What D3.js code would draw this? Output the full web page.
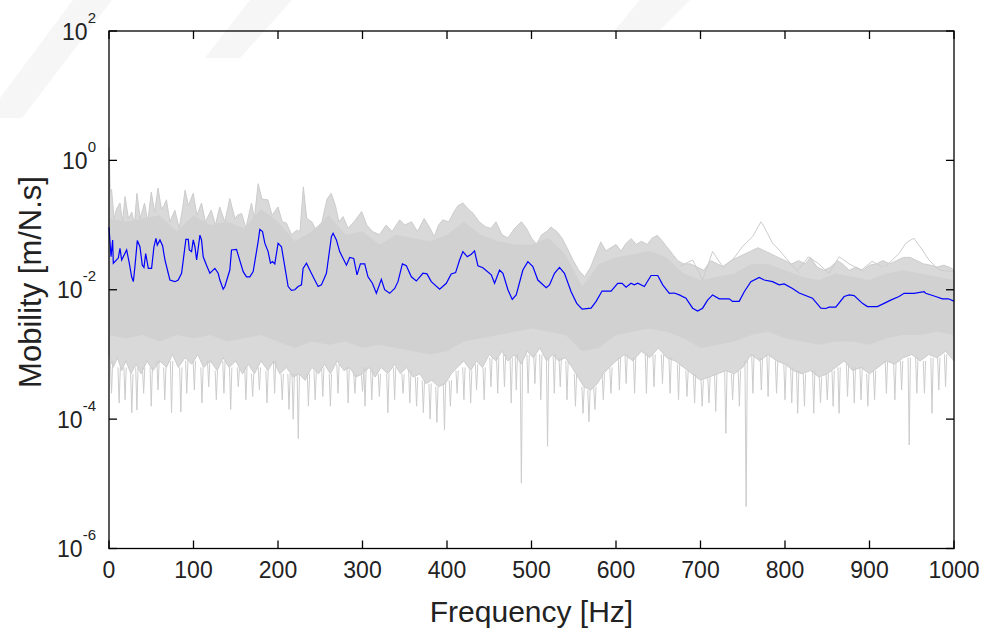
<!DOCTYPE html>
<html>
<head>
<meta charset="utf-8">
<script src="https://cdn.jsdelivr.net/npm/d3@7"></script>
<style>
  body { margin: 0; background: white; }
  text { font-family: "Liberation Sans", Arial, sans-serif; fill: #222; }
</style>
</head>
<body>
<div id="chart"></div>
<script>
// ---- data (frequency in Hz, mobility as log10 exponent) ----

// mean mobility curve (blue)
let meanCurve = [
  [0,-1.035],[2.4,-1.49],[4.3,-1.23],[5.1,-1.59],[11,-1.51],[13,-1.36],[15,-1.54],[20.9,-1.385],[24,-1.59],[26.8,-1.8],
  [28.8,-1.875],[30.7,-1.64],[33.5,-1.24],[36.6,-1.335],[39.4,-1.62],[41.4,-1.655],[43.4,-1.44],[46.5,-1.67],[50.4,-1.67],[53.2,-1.335],
  [55.6,-1.205],[57.1,-1.31],[60.3,-1.23],[63.4,-1.32],[66.2,-1.54],[70.1,-1.745],[72.1,-1.85],[78,-1.875],[81.9,-1.85],[85.9,-1.745],
  [91,-1.22],[93.8,-1.22],[95,-1.385],[97.7,-1.41],[99.7,-1.23],[101.7,-1.335],[103.7,-1.54],[107.6,-1.155],[109.5,-1.23],[111.5,-1.49],
  [115.4,-1.62],[119.4,-1.745],[121.3,-1.72],[125.3,-1.67],[129.2,-1.745],[131.2,-1.85],[135.1,-1.99],[137.1,-1.95],[143,-1.695],[145,-1.385],
  [150.9,-1.375],[152.8,-1.46],[158.8,-1.72],[162.7,-1.8],[166.7,-1.8],[170.6,-1.72],[176.5,-1.257],[178.5,-1.066],[181.7,-1.1],[184.4,-1.28],
  [188.3,-1.41],[191.1,-1.59],[193.5,-1.565],[196.2,-1.6],[200.1,-1.28],[204.1,-1.335],[208,-1.64],[212,-1.95],[215.9,-2.01],[219.9,-2.0],
  [223.8,-1.95],[227.8,-1.925],[229.7,-1.67],[233.7,-1.59],[237.6,-1.695],[243.5,-1.85],[247.5,-1.95],[251.4,-1.925],[257.3,-1.745],[263.2,-1.18],
  [265.2,-1.127],[269.1,-1.23],[273,-1.41],[281,-1.62],[284.9,-1.5],[289.6,-1.515],[293.5,-1.77],[297.5,-1.6],[302.6,-1.6],[306.5,-1.8],
  [311.7,-1.9],[316.4,-2.055],[322.3,-1.84],[326.2,-2.0],[332.2,-2.055],[338.1,-1.98],[342,-1.875],[347.2,-1.6],[351.9,-1.63],[357.8,-1.8],
  [363.7,-1.865],[371.5,-1.745],[376.3,-1.755],[381.4,-1.875],[391.3,-1.99],[399.2,-1.9],[405,-1.755],[410.2,-1.735],[414.9,-1.54],[418.8,-1.41],
  [424,-1.49],[428.7,-1.45],[432.6,-1.4],[436.6,-1.63],[442.5,-1.66],[452.4,-1.77],[456.3,-1.9],[462.2,-1.695],[466.2,-1.745],[472.1,-2.0],
  [477.2,-2.15],[481.9,-2.08],[489.8,-1.695],[495.7,-1.565],[501.6,-1.64],[507.5,-1.85],[517.4,-1.97],[521.3,-1.925],[527.2,-1.745],[533.1,-1.655],
  [539,-1.745],[546.9,-2.03],[553.5,-2.21],[559.9,-2.3],[570.5,-2.285],[576.5,-2.18],[583.5,-2.02],[594.2,-2.02],[602,-1.9],[607.2,-1.9],
  [611.9,-1.96],[617.8,-1.9],[621.7,-1.925],[625.7,-1.9],[633.6,-1.95],[641.5,-1.78],[649.4,-1.78],[655.3,-1.925],[663.1,-2.055],[669,-2.05],
  [674.9,-2.08],[682.8,-2.13],[690.7,-2.285],[696.6,-2.33],[702.5,-2.285],[708.4,-2.16],[714.3,-2.08],[722.2,-2.14],[734,-2.14],[737.9,-2.18],
  [745.8,-2.18],[751.8,-2.03],[759.6,-1.875],[769.5,-1.81],[775.4,-1.85],[785.2,-1.875],[793.1,-1.925],[799,-1.91],[808.9,-1.98],[816.8,-2.05],
  [832.5,-2.13],[842.4,-2.285],[848.3,-2.29],[852.2,-2.27],[860.1,-2.27],[870,-2.105],[875.9,-2.08],[881.8,-2.09],[891.6,-2.21],[897.5,-2.26],
  [909.3,-2.26],[917.3,-2.21],[925.1,-2.16],[935,-2.105],[940.9,-2.055],[952.7,-2.055],[964.5,-2.03],[966.5,-2.055],[978.3,-2.105],[986.2,-2.14],
  [993.3,-2.14],[1000,-2.175]
];

// outer upper edge of the bundle of individual measurements (grey)
let bundleUpper = [
  [0,0.2],[1.5,-0.5],[3,-0.45],[6,-0.9],[9,-0.75],[13,-0.66],[16,-0.95],[19,-0.56],[23,-0.9],[27,-0.8],
  [30,-1.0],[33,-0.51],[37,-0.9],[42,-0.66],[46,-0.95],[50,-0.49],[54,-0.8],[58,-0.43],[62,-0.75],[65,-0.7],
  [68,-0.61],[72,-0.95],[78,-0.77],[83,-1.05],[87,-0.75],[90,-0.46],[94,-0.7],[99.7,-0.51],[104,-0.85],[109.5,-0.66],
  [114,-0.95],[121,-0.77],[126,-1.0],[131,-0.72],[137,-0.95],[143,-0.59],[149,-0.9],[152,-0.85],[157,-0.82],[162,-1.05],
  [168.6,-0.66],[172,-0.9],[176.5,-0.36],[181,-0.6],[188,-0.61],[193,-0.85],[200,-0.72],[205,-0.95],[210,-0.97],[216,-1.15],
  [222,-1.08],[226,-1.1],[230,-0.41],[234,-0.9],[240,-0.95],[246,-1.1],[252,-0.95],[258,-0.6],[263,-0.51],[268,-0.7],
  [272,-0.95],[277,-0.87],[283,-1.05],[290,-0.95],[299,-0.79],[305,-1.0],[312,-1.1],[320,-1.15],[328,-1.0],[335,-1.1],
  [344,-0.92],[350,-1.0],[358,-0.95],[365,-1.1],[373,-0.9],[380,-1.05],[385,-1.18],[390,-1.0],[395,-0.92],[402,-0.95],
  [408,-0.8],[413,-0.7],[419,-0.66],[425,-0.75],[431,-0.82],[438,-0.95],[446,-1.03],[452,-1.05],[458,-0.95],[465,-1.15],
  [472,-1.2],[480,-1.05],[488,-0.95],[494,-1.05],[500,-1.2],[506,-1.3],[512,-1.15],[518,-1.1],[523,-1.03],[530,-1.1],
  [536,-1.2],[542,-1.35],[549,-1.54],[556,-1.7],[563,-1.8],[570,-1.65],[576,-1.45],[582,-1.26],[588,-1.4],[594,-1.35],
  [600,-1.3],[606,-1.4],[612,-1.28],[618,-1.21],[624,-1.3],[630,-1.25],[637,-1.3],[643,-1.2],[649,-1.16],[655,-1.25],
  [661,-1.35],[667,-1.45],[673,-1.55],[680,-1.6],[688,-1.6],[696,-1.65],[704,-1.7],[712,-1.55],[720,-1.6],[728,-1.65],
  [736,-1.55],[744,-1.5],[752,-1.45],[760,-1.4],[768,-1.35],[776,-1.4],[784,-1.45],[792,-1.5],[800,-1.55],[808,-1.6],
  [816,-1.55],[824,-1.6],[830,-1.5],[838,-1.65],[846,-1.7],[854,-1.65],[862,-1.55],[868,-1.6],[876,-1.7],[884,-1.65],
  [892,-1.7],[900,-1.62],[908,-1.6],[916,-1.55],[924,-1.6],[932,-1.55],[940,-1.5],[948,-1.5],[956,-1.55],[964,-1.6],
  [972,-1.62],[980,-1.65],[988,-1.62],[996,-1.66],[1000,-1.7]
];

// outer lower edge of the bundle
let bundleLower = [
  [0,-3.0],[5,-3.2],[10,-3.05],[15,-3.25],[20,-3.1],[26,-3.3],[32,-3.15],[38,-3.3],[45,-3.1],[52,-3.25],
  [60,-3.1],[68,-3.2],[75,-3.0],[82,-3.2],[90,-3.05],[98,-3.15],[105,-3.0],[112,-3.2],[120,-3.1],[128,-3.25],
  [135,-3.05],[142,-3.2],[150,-3.1],[158,-3.3],[165,-3.15],[172,-3.3],[180,-3.1],[188,-3.25],[195,-3.1],[202,-3.3],
  [210,-3.2],[218,-3.35],[225,-3.3],[232,-3.4],[240,-3.2],[248,-3.3],[255,-3.15],[262,-3.3],[270,-3.1],[278,-3.25],
  [285,-3.2],[292,-3.35],[300,-3.3],[308,-3.2],[315,-3.35],[322,-3.2],[330,-3.3],[338,-3.15],[345,-3.3],[352,-3.2],
  [360,-3.35],[368,-3.3],[375,-3.45],[382,-3.4],[390,-3.5],[398,-3.45],[405,-3.3],[412,-3.2],[420,-3.1],[428,-3.25],
  [435,-3.1],[442,-3.2],[450,-3.0],[458,-3.1],[465,-2.95],[472,-3.1],[480,-3.0],[488,-3.15],[495,-2.95],[502,-3.05],
  [510,-2.9],[518,-3.1],[525,-3.0],[532,-3.1],[540,-3.05],[548,-3.2],[555,-3.35],[562,-3.5],[570,-3.55],[578,-3.45],
  [585,-3.3],[592,-3.2],[600,-3.1],[610,-3.0],[620,-3.1],[630,-2.95],[640,-3.05],[650,-2.9],[660,-3.05],[670,-3.1],
  [680,-3.2],[690,-3.3],[700,-3.4],[710,-3.35],[720,-3.3],[730,-3.25],[740,-3.3],[750,-3.2],[760,-3.0],[770,-3.1],
  [780,-3.0],[790,-3.1],[800,-3.15],[810,-3.25],[820,-3.3],[830,-3.25],[840,-3.35],[850,-3.3],[860,-3.2],[870,-3.1],
  [880,-3.25],[890,-3.2],[900,-3.3],[910,-3.2],[920,-3.1],[930,-3.15],[940,-3.05],[950,-3.0],[960,-3.1],[970,-3.0],
  [980,-3.05],[990,-2.95],[1000,-3.1]
];

// edges of the densest part of the bundle
let coreUpper = [
  [0,-0.9],[20,-0.95],[40,-0.9],[60,-0.85],[80,-1.1],[100,-0.85],[120,-1.0],[140,-0.95],[160,-1.05],[180,-0.75],
  [200,-0.95],[220,-1.25],[240,-1.1],[260,-0.85],[280,-1.15],[300,-1.1],[320,-1.3],[340,-1.15],[360,-1.2],[380,-1.25],
  [400,-1.15],[420,-0.95],[440,-1.15],[460,-1.25],[480,-1.3],[500,-1.3],[520,-1.2],[540,-1.45],[560,-1.95],[580,-1.6],
  [600,-1.5],[620,-1.45],[640,-1.4],[660,-1.5],[680,-1.75],[700,-1.85],[720,-1.8],[740,-1.75],[760,-1.6],[780,-1.6],
  [800,-1.7],[820,-1.8],[840,-1.85],[860,-1.75],[880,-1.8],[900,-1.85],[920,-1.75],[940,-1.7],[960,-1.75],[980,-1.8],[1000,-1.85]
];
let coreLower = [
  [0,-2.7],[20,-2.75],[40,-2.7],[60,-2.8],[80,-2.7],[100,-2.75],[120,-2.7],[140,-2.8],[160,-2.75],[180,-2.7],
  [200,-2.8],[220,-2.9],[240,-2.8],[260,-2.85],[280,-2.8],[300,-2.9],[320,-2.85],[340,-2.9],[360,-2.95],[380,-3.0],
  [400,-2.95],[420,-2.8],[440,-2.75],[460,-2.7],[480,-2.65],[500,-2.6],[520,-2.65],[540,-2.7],[560,-2.95],[580,-2.9],
  [600,-2.7],[620,-2.65],[640,-2.6],[660,-2.65],[680,-2.75],[700,-2.9],[720,-2.85],[740,-2.8],[760,-2.7],[780,-2.65],
  [800,-2.75],[820,-2.8],[840,-2.85],[860,-2.8],[880,-2.8],[900,-2.85],[920,-2.75],[940,-2.7],[960,-2.7],[980,-2.65],[1000,-2.7]
];

// narrow anti-resonance dips below the bundle: [freq, from, to]
let dips = [
  [3,-3.1,-3.6],[12,-3.2,-3.75],[19,-3.2,-3.7],[27,-3.3,-3.9],[33,-3.2,-3.86],[41,-3.2,-3.6],[50,-3.2,-3.8],[58,-3.1,-3.55],
  [66,-3.2,-3.7],[74,-3.1,-3.9],[85,-3.2,-3.89],[92,-3.1,-3.6],[101,-3.1,-3.55],[110,-3.2,-3.75],[118,-3.1,-3.5],[127,-3.25,-3.7],
  [136,-3.1,-3.6],[144,-3.2,-3.85],[153,-3.2,-3.5],[162,-3.2,-3.7],[170,-3.3,-3.65],[178,-3.2,-3.55],[187,-3.25,-3.75],[196,-3.1,-3.6],
  [205,-3.3,-3.7],[213,-3.3,-3.85],[218,-3.3,-4.0],[224,-3.3,-4.3],[236,-3.3,-3.8],[244,-3.25,-3.7],[253,-3.2,-3.65],[262,-3.3,-3.8],
  [271,-3.15,-3.6],[283,-3.2,-3.75],[291,-3.3,-3.6],[300,-3.3,-3.57],[303,-3.2,-3.8],[311,-3.25,-3.7],[320,-3.3,-3.65],[330,-3.3,-3.9],
  [338,-3.2,-3.7],[348,-3.3,-3.6],[356,-3.25,-3.75],[364,-3.35,-3.8],[372,-3.4,-3.9],[380,-3.45,-4.0],[388,-3.5,-4.05],[397,-3.45,-4.17],
  [404,-3.4,-3.8],[412,-3.25,-3.6],[420,-3.2,-3.7],[428,-3.25,-3.75],[435,-3.15,-3.55],[444,-3.2,-3.7],[452,-3.05,-3.5],[460,-3.05,-3.6],
  [468,-3.0,-3.5],[476,-3.05,-3.75],[482,-3.0,-3.55],[488,-3.1,-4.99],[496,-3.0,-3.6],[504,-3.0,-3.45],[511,-3.0,-3.7],[519,-3.05,-4.42],
  [527,-3.0,-3.6],[534,-3.05,-3.5],[542,-3.1,-3.7],[552,-3.3,-3.8],[561,-3.5,-3.91],[568,-3.55,-4.04],[575,-3.5,-3.85],[585,-3.3,-3.7],
  [594,-3.2,-3.6],[604,-3.05,-3.55],[612,-3.0,-3.45],[622,-3.05,-3.6],[636,-3.0,-3.6],[645,-3.0,-3.5],[655,-3.0,-3.45],[664,-3.05,-3.6],
  [674,-3.15,-3.7],[684,-3.25,-3.65],[693,-3.3,-3.75],[702,-3.4,-3.8],[710,-3.35,-3.75],[718,-3.3,-3.88],[730,-3.25,-4.22],[738,-3.3,-3.7],
  [746,-3.25,-3.8],[754,-3.1,-5.35],[762,-3.0,-3.6],[772,-3.05,-3.55],[780,-3.0,-3.65],[790,-3.1,-3.6],[800,-3.15,-3.7],[808,-3.2,-3.75],
  [815,-3.25,-3.91],[823,-3.3,-3.8],[834,-3.25,-3.91],[842,-3.35,-3.75],[850,-3.3,-3.7],[857,-3.25,-3.8],[864,-3.2,-3.91],[874,-3.15,-3.65],
  [882,-3.2,-3.75],[890,-3.2,-3.7],[898,-3.3,-3.8],[906,-3.25,-3.7],[920,-3.1,-3.6],[930,-3.15,-3.7],[938,-3.1,-3.55],[947,-3.05,-4.4],
  [956,-3.05,-3.6],[965,-3.1,-3.6],[974,-3.05,-3.91],[982,-3.05,-3.55],[990,-3.0,-3.5]
];

// single measurements that stick out above the bundle
let outlier760 = [
  [675,-1.64],[690.7,-1.54],[702.5,-1.85],[714.3,-1.41],[726.1,-1.64],[737.9,-1.54],[749.8,-1.33],[761.6,-1.18],
  [771.5,-0.95],[775.4,-1.03],[779.3,-1.13],[785.2,-1.28],[793.1,-1.385],[804.9,-1.57],[816.8,-1.745]
];
let outlier850 = [
  [815,-1.7],[828,-1.49],[840,-1.6],[852,-1.75],[864,-1.49],[876,-1.6],[890,-1.7],[903,-1.56],[915,-1.65]
];
let outlier950 = [
  [919,-1.64],[935,-1.44],[943,-1.28],[948.8,-1.23],[952.7,-1.205],[956.7,-1.28],[962.6,-1.385],[970.4,-1.54],[982.3,-1.695],[1000,-1.72]
];

let xTicks = [0, 100, 200, 300, 400, 500, 600, 700, 800, 900, 1000];
let yTickExps = [-6, -4, -2, 0, 2];

// ---- layout ----
let width = 990,
  height = 633,
  margin = { top: 31, bottom: 84, left: 109, right: 35 };

let svg = d3.select('#chart')
  .append('svg')
    .attr('width', width)
    .attr('height', height)
    .style('background', 'white');

// faint watermark bands behind the figure
let bands = [
  [[73,0],[112,0],[22,118],[0,118],[0,98]],
  [[250,0],[292,0],[240,58],[205,58]],
  [[640,0],[690,0],[660,30],[615,30]]
];
svg.append('g').selectAll('polygon')
  .data(bands)
  .enter()
  .append('polygon')
  .attr('points', d => d.map(p => p.join(',')).join(' '))
  .attr('fill', '#f6f6f6');

let xScale = d3.scaleLinear()
  .domain([0, 1000])
  .range([margin.left, width - margin.right - 1]);

let yScale = d3.scaleLog()
  .domain([1e-6, 1e2])
  .range([height - margin.bottom - 0.5, margin.top]);

let px = d => xScale(d[0]);
let py = d => yScale(Math.pow(10, d[1]));
let line = d3.line().x(px).y(py);

let plot = svg.append('g');

// grey bundle: outer band, then the dense core on top
plot.append('path')
  .attr('d', line(bundleUpper.concat(bundleLower.slice().reverse())) + 'Z')
  .attr('fill', '#d9d9d9')
  .attr('stroke', '#cccccc')
  .attr('stroke-width', 1);

plot.append('path')
  .attr('d', line(coreUpper.concat(coreLower.slice().reverse())) + 'Z')
  .attr('fill', '#d1d1d1')
  .attr('stroke', 'none');

// dips
plot.append('g').selectAll('path')
  .data(dips)
  .enter()
  .append('path')
  .attr('d', d => line([[d[0] - 1.4, d[1]], [d[0], d[2]], [d[0] + 1.4, d[1]]]))
  .attr('fill', 'none')
  .attr('stroke', '#cccccc')
  .attr('stroke-width', 1);

// outlying grey lines
plot.append('g').selectAll('path')
  .data([outlier760, outlier850, outlier950])
  .enter()
  .append('path')
  .attr('d', line)
  .attr('fill', 'none')
  .attr('stroke', '#cccccc')
  .attr('stroke-width', 1);

// mean curve
plot.append('path')
  .attr('d', line(meanCurve))
  .attr('fill', 'none')
  .attr('stroke', '#0000ff')
  .attr('stroke-width', 1.2);

// ---- axes box with inward ticks ----
let x0 = xScale(0), x1 = xScale(1000);
let y0 = yScale(1e-6), y1 = yScale(1e2);
let axis = svg.append('g').attr('stroke', '#000').attr('stroke-width', 1.3);

axis.append('rect')
  .attr('x', x0).attr('y', y1)
  .attr('width', x1 - x0).attr('height', y0 - y1)
  .attr('fill', 'none');

xTicks.forEach(t => {
  axis.append('line').attr('x1', xScale(t)).attr('x2', xScale(t)).attr('y1', y0).attr('y2', y0 - 8);
  axis.append('line').attr('x1', xScale(t)).attr('x2', xScale(t)).attr('y1', y1).attr('y2', y1 + 8);
});
yTickExps.forEach(e => {
  let yy = yScale(Math.pow(10, e));
  axis.append('line').attr('x1', x0).attr('x2', x0 + 8).attr('y1', yy).attr('y2', yy);
  axis.append('line').attr('x1', x1).attr('x2', x1 - 8).attr('y1', yy).attr('y2', yy);
});

// tick labels
svg.append('g').selectAll('text')
  .data(xTicks)
  .enter()
  .append('text')
  .attr('x', d => xScale(d))
  .attr('y', 578)
  .attr('text-anchor', 'middle')
  .style('font-size', '23px')
  .text(d => d);

let yLabels = svg.append('g').selectAll('text')
  .data(yTickExps)
  .enter()
  .append('text')
  .attr('x', 96)
  .attr('y', d => yScale(Math.pow(10, d)) + 8.5)
  .attr('text-anchor', 'end')
  .style('font-size', '23px');
yLabels.append('tspan').text('10');
yLabels.append('tspan')
  .attr('dy', -17)
  .style('font-size', '15px')
  .text(d => d);

// axis titles
svg.append('text')
  .attr('x', (x0 + x1) / 2)
  .attr('y', 622)
  .attr('text-anchor', 'middle')
  .style('font-size', '30px')
  .text('Frequency [Hz]');

svg.append('text')
  .attr('transform', 'translate(41,282) rotate(-90)')
  .attr('text-anchor', 'middle')
  .style('font-size', '31px')
  .text('Mobility [m/N.s]');
</script>
</body>
</html>
